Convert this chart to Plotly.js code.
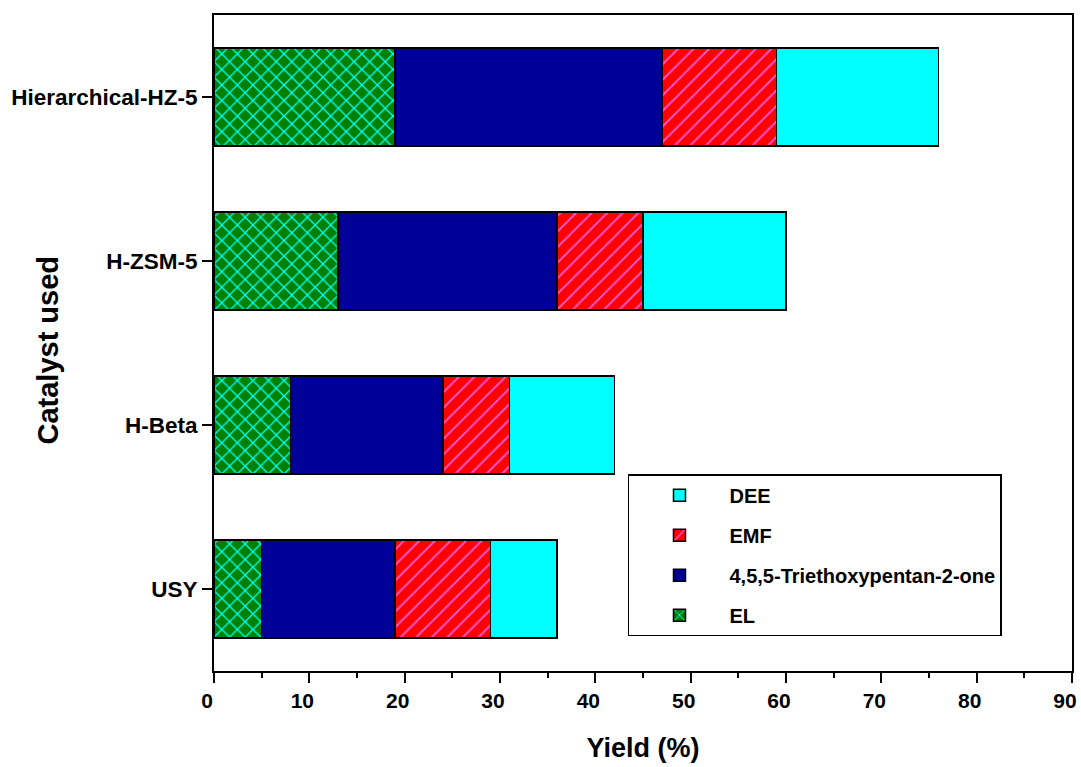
<!DOCTYPE html>
<html>
<head>
<meta charset="utf-8">
<script src="https://cdn.plot.ly/plotly-3.0.1.min.js"></script>
<style>html,body{margin:0;padding:0;background:#fff;}#chart{width:1081px;height:767px;}</style>
</head>
<body>
<div id="chart"></div>
<script>
const catalysts = ['USY', 'H-Beta', 'H-ZSM-5', 'Hierarchical-HZ-5'];
const EL = [5, 8, 13, 19];
const triethoxy = [14, 16, 23, 28];
const EMF = [10, 7, 9, 12];
const DEE = [7, 11, 15, 17];
const xTicks = [0, 10, 20, 30, 40, 50, 60, 70, 80, 90];

const font = 'Liberation Sans, Arial, sans-serif';
const outline = {color: '#000', width: 1.5};

const traces = [
  {name: 'EL', x: EL, color: '#008000',
   pattern: {shape: 'x', fillmode: 'replace', bgcolor: '#008000', fgcolor: '#00FFFF', size: 11, solidity: 0.22}},
  {name: '4,5,5-Triethoxypentan-2-one', x: triethoxy, color: '#000099', pattern: null},
  {name: 'EMF', x: EMF, color: '#FF0000',
   pattern: {shape: '/', fillmode: 'replace', bgcolor: '#FF0000', fgcolor: '#FF55CC', size: 11, solidity: 0.18}},
  {name: 'DEE', x: DEE, color: '#00FFFF', pattern: null}
].map((t, i) => {
  const m = {color: t.color, line: outline};
  if (t.pattern) m.pattern = t.pattern;
  return {
    type: 'bar', orientation: 'h', name: t.name, x: t.x, y: catalysts,
    width: 0.6, marker: m, legendgroup: 'g' + i, legendrank: 4 - i,
    hoverinfo: 'x+name'
  };
});

const layout = {
  width: 1081, height: 767,
  margin: {l: 214, r: 9, t: 15, b: 96},
  paper_bgcolor: '#fff', plot_bgcolor: '#fff',
  barmode: 'stack',
  font: {family: font, color: '#000'},
  xaxis: {
    range: [0, 90], tickvals: xTicks, ticktext: xTicks.map(String),
    showgrid: false, zeroline: false,
    showline: true, linecolor: '#000', linewidth: 2, mirror: true,
    ticks: 'outside', ticklen: 10, tickwidth: 2, tickcolor: '#000',
    ticklabeloverflow: 'allow', ticklabelshift: -7,
    minor: {dtick: 5, tick0: 0, ticks: 'outside', ticklen: 5, tickwidth: 2, tickcolor: '#000', showgrid: false},
    tickfont: {family: font, size: 21, weight: 'bold'},
    title: {text: '<b>Yield (%)</b>', font: {family: font, size: 27}, standoff: 27}
  },
  yaxis: {
    type: 'category', categoryorder: 'array', categoryarray: catalysts,
    range: [-0.5, 3.5],
    showgrid: false, zeroline: false,
    showline: true, linecolor: '#000', linewidth: 2, mirror: true,
    ticks: 'outside', ticklen: 10, tickwidth: 2, tickcolor: '#000',
    tickfont: {family: font, size: 22.5, weight: 'bold'}
  },
  legend: {
    x: 0.4825, y: 0.30, xanchor: 'left', yanchor: 'top',
    traceorder: 'grouped', tracegroupgap: 11,
    bordercolor: '#000', borderwidth: 1.5, bgcolor: '#fff',
    itemwidth: 90,
    font: {family: font, size: 20, weight: 'bold'}
  },
  annotations: [{
    text: '<b>Catalyst used</b>', textangle: -90,
    xref: 'paper', yref: 'paper', x: -0.1935, y: 0.49,
    xanchor: 'center', yanchor: 'middle', showarrow: false,
    font: {family: font, size: 29, color: '#000'}
  }],
  showlegend: true
};

Plotly.newPlot('chart', traces, layout, {displayModeBar: false, staticPlot: true});
</script>
</body>
</html>
